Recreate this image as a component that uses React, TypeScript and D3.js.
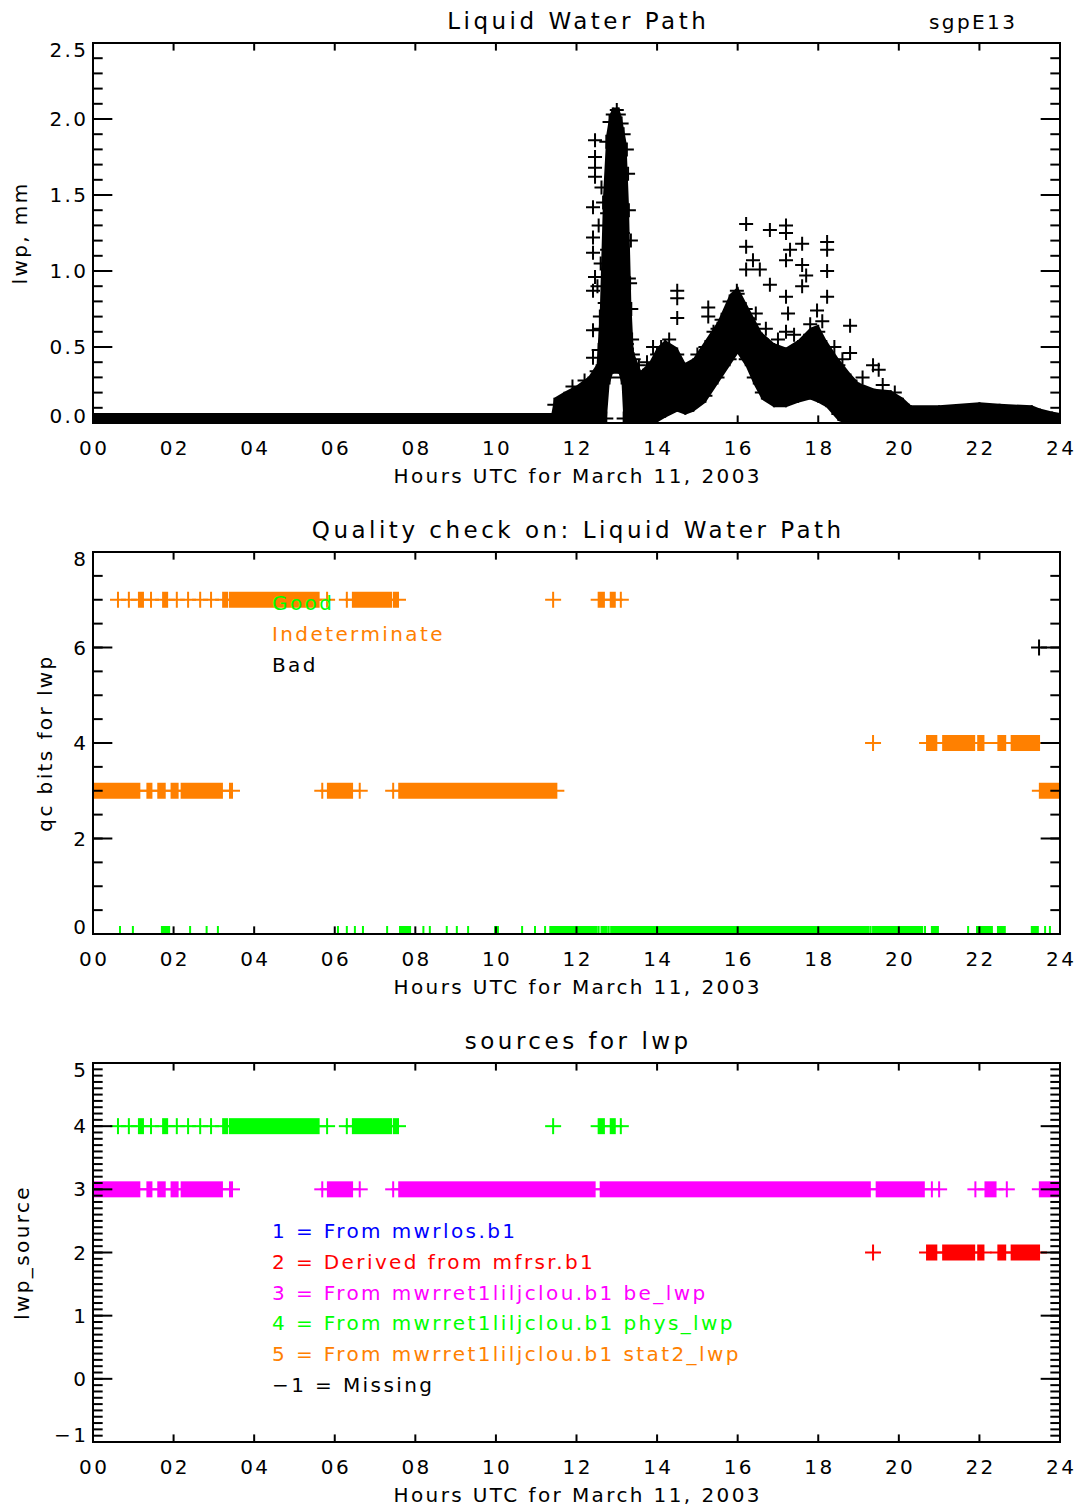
import React from "react";
import * as d3 from "d3";

// shared x axis
const hourTickValues = [0, 2, 4, 6, 8, 10, 12, 14, 16, 18, 20, 22, 24];
const hourTickLabels = ["00", "02", "04", "06", "08", "10", "12", "14", "16", "18", "20", "22", "24"];

// panel 1: liquid water path (dense cloud as envelope of the crosses + isolated crosses)
const lwpHours = [0, 11.38, 11.45, 11.7, 12.0, 12.3, 12.5, 12.58, 12.66, 12.74, 12.82, 12.9, 13.05, 13.12, 13.17, 13.24, 13.3, 13.36, 13.42, 13.6, 13.8, 14.0, 14.2, 14.5, 14.7, 14.9, 15.2, 15.5, 15.8, 16.0, 16.2, 16.4, 16.6, 16.9, 17.2, 17.5, 17.8, 18.0, 18.2, 18.5, 18.8, 19.0, 19.4, 19.8, 20.1, 20.3, 21.0, 22.0, 22.5, 23.3, 23.5, 23.8, 24.0];
const lwpLow = [0.02, 0.02, 0.01, 0.01, 0.02, 0.02, 0.02, 0.02, 0.03, 0.03, 0.3, 0.37, 0.37, 0.3, 0.03, 0.03, 0.03, 0.03, 0.03, 0.04, 0.05, 0.05, 0.08, 0.12, 0.1, 0.12, 0.18, 0.3, 0.42, 0.5, 0.42, 0.3, 0.2, 0.15, 0.15, 0.18, 0.2, 0.18, 0.15, 0.06, 0.03, 0.02, 0.02, 0.02, 0.02, 0.02, 0.02, 0.02, 0.02, 0.02, 0.02, 0.01, 0.01];
const lwpHigh = [0.02, 0.02, 0.12, 0.16, 0.2, 0.26, 0.34, 0.7, 1.45, 1.85, 1.98, 2.03, 2.03, 1.97, 1.9, 1.8, 1.4, 0.75, 0.42, 0.3, 0.35, 0.45, 0.5, 0.45, 0.35, 0.38, 0.5, 0.62, 0.8, 0.85, 0.75, 0.65, 0.55, 0.48, 0.45, 0.5, 0.58, 0.6, 0.5, 0.38, 0.28, 0.22, 0.18, 0.17, 0.12, 0.07, 0.07, 0.09, 0.08, 0.07, 0.05, 0.03, 0.02];
const lwpOutlierHours = [13.0, 12.46, 12.46, 12.46, 12.46, 12.41, 12.41, 12.41, 12.46, 12.41, 12.41, 12.41, 13.25, 13.28, 13.28, 13.15, 13.15, 13.33, 13.15, 12.76, 12.76, 13.25, 12.7, 12.55, 12.58, 12.6, 13.35, 13.3, 13.38, 12.52, 12.55, 12.62, 13.4,
  16.21, 16.21, 16.8, 17.2, 17.2, 17.6, 17.3, 17.2, 18.22, 18.22, 18.22, 18.22, 16.21, 16.38, 16.55, 17.6, 17.7, 17.6, 16.8, 18.79, 14.5, 14.5, 14.5, 15.27, 15.27, 15.98, 17.2, 17.25, 17.2, 18.79, 19.36, 19.5, 17.97,
  13.55, 13.75, 13.9, 14.1, 14.3, 15.0, 15.4, 15.6, 16.45, 16.7, 17.0, 17.4, 17.8, 18.1, 18.4, 18.6, 19.1, 19.6, 19.9, 12.2, 11.9];
const lwpOutlierValues = [2.06, 1.86, 1.75, 1.68, 1.62, 1.42, 1.22, 1.12, 0.96, 0.87, 0.61, 0.43, 1.8, 1.64, 1.4, 1.25, 1.0, 0.92, 0.7, 1.14, 1.38, 0.52, 0.79, 0.48, 0.62, 1.05, 1.2, 0.95, 0.55, 0.9, 1.3, 1.55, 0.45,
  1.31, 1.16, 1.27, 1.3, 1.25, 1.18, 1.14, 1.07, 1.19, 1.14, 1.0, 0.83, 1.01, 1.07, 1.01, 1.04, 0.97, 0.9, 0.91, 0.64, 0.87, 0.82, 0.69, 0.76, 0.7, 0.87, 0.83, 0.72, 0.6, 0.46, 0.38, 0.35, 0.74,
  0.38, 0.4, 0.5, 0.5, 0.55, 0.45, 0.6, 0.68, 0.72, 0.62, 0.55, 0.58, 0.65, 0.67, 0.5, 0.42, 0.3, 0.25, 0.2, 0.28, 0.24];
const lwpTickValues = [0, 0.5, 1.0, 1.5, 2.0, 2.5];
const lwpTickLabels = ["0.0", "0.5", "1.0", "1.5", "2.0", "2.5"];

// panel 2: qc bits, runs of consecutive samples [start hour, end hour]
const qcGoodRuns = [[0.67, 0.67], [0.99, 0.99], [1.71, 1.89], [2.41, 2.41], [2.82, 2.82], [3.1, 3.1], [6.08, 6.08], [6.3, 6.3], [6.5, 6.5], [6.7, 6.7], [7.3, 7.3], [7.62, 7.87], [8.2, 8.2], [8.36, 8.36], [8.78, 8.78], [9.03, 9.03], [9.31, 9.31], [9.98, 10.05], [10.65, 10.65], [10.97, 10.97], [11.22, 11.22], [11.35, 12.5], [12.55, 12.55], [12.62, 12.75], [12.8, 12.8], [12.86, 19.25], [19.3, 19.3], [19.36, 20.58], [20.65, 20.65], [20.82, 20.97], [21.72, 21.72], [21.94, 22.31], [22.46, 22.63], [23.3, 23.45], [23.63, 23.63], [23.75, 23.75]];
const qcSevenRuns = [[0.62, 0.62], [0.89, 0.89], [1.14, 1.24], [1.44, 1.44], [1.74, 1.84], [2.08, 2.08], [2.36, 2.36], [2.66, 2.66], [2.93, 2.93], [3.23, 3.33], [3.4, 5.6], [5.81, 5.81], [6.3, 6.3], [6.45, 7.4], [7.47, 7.57], [11.42, 11.42], [12.55, 12.68], [12.85, 12.95], [13.1, 13.1]];
const qcThreeRuns = [[0, 1.15], [1.35, 1.45], [1.62, 1.78], [1.95, 2.1], [2.2, 3.2], [3.4, 3.45], [5.69, 5.69], [5.83, 6.43], [6.62, 6.62], [7.45, 7.45], [7.6, 11.5], [23.5, 24]];
const qcFourRuns = [[19.36, 19.36], [20.7, 20.93], [21.1, 21.87], [21.97, 22.1], [22.47, 22.64], [22.8, 23.48]];
const qcSixRuns = [[23.48, 23.48]];
const qcTickValues = [0, 2, 4, 6, 8];
const qcTickLabels = ["0", "2", "4", "6", "8"];
const qcLegend = ["Good", "Indeterminate", "Bad"];

// panel 3: lwp source
const srcPhysRuns = qcSevenRuns; // source 4 matches qc 7
const srcBeRuns = [[0, 1.15], [1.35, 1.45], [1.62, 1.78], [1.95, 2.1], [2.2, 3.2], [3.4, 3.45], [5.69, 5.69], [5.83, 6.43], [6.62, 6.62], [7.45, 7.45], [7.6, 12.45], [12.6, 19.28], [19.45, 20.62], [20.82, 20.82], [21.0, 21.0], [21.9, 21.9], [22.15, 22.4], [22.68, 22.68], [23.5, 24]];
const srcMfrsrRuns = qcFourRuns; // source 2 matches qc 4
const srcTickValues = [-1, 0, 1, 2, 3, 4, 5];
const srcTickLabels = ["\u22121", "0", "1", "2", "3", "4", "5"];
const srcLegend = [
  "1 = From mwrlos.b1",
  "2 = Derived from mfrsr.b1",
  "3 = From mwrret1liljclou.b1 be_lwp",
  "4 = From mwrret1liljclou.b1 phys_lwp",
  "5 = From mwrret1liljclou.b1 stat2_lwp",
  "\u22121 = Missing",
];

const GREEN = "#00ff00";
const ORANGE = "#ff8000";
const MAGENTA = "#ff00ff";
const RED = "#ff0000";
const BLUE = "#0000ff";
const srcLegendColors = [BLUE, RED, MAGENTA, GREEN, ORANGE, "#000"];
const qcLegendColors = [GREEN, ORANGE, "#000"];

const LEFT = 93;
const RIGHT = 1060;
const FONT = "DejaVu Sans";
const FS = 20;
const LS = 2.4;
const TFS = 23;
const TLS = 3.5;

const x = d3.scaleLinear().domain([0, 24]).range([LEFT, RIGHT]);

function cross(cx: number, cy: number, h: number) {
  return `M${cx - h},${cy}H${cx + h}M${cx},${cy - h}V${cy + h}`;
}

function Frame({ id, top, bottom, y, ticks, labels, minor, title, ylabel, ylabelX, children }: any) {
  const h = bottom - top;
  const yLen = 0.02 * (RIGHT - LEFT);
  const xLen = 0.02 * h;
  const [d0, d1] = y.domain();
  const minorTicks = d3.range(Math.round((d1 - d0) / minor) + 1).map((i) => d0 + i * minor);
  return (
    <g>
      <defs>
        <clipPath id={id}>
          <rect x={LEFT} y={top} width={RIGHT - LEFT} height={h} />
        </clipPath>
      </defs>
      <g clipPath={`url(#${id})`}>{children}</g>
      <rect x={LEFT} y={top} width={RIGHT - LEFT} height={h} fill="none" stroke="#000" strokeWidth={2} />
      {hourTickValues.map((t) => (
        <g key={t}>
          <line x1={x(t)} x2={x(t)} y1={bottom} y2={bottom - xLen} stroke="#000" strokeWidth={2} />
          <line x1={x(t)} x2={x(t)} y1={top} y2={top + xLen} stroke="#000" strokeWidth={2} />
        </g>
      ))}
      {minorTicks.map((t, i) => (
        <g key={"m" + i}>
          <line x1={LEFT} x2={LEFT + yLen / 2} y1={y(t)} y2={y(t)} stroke="#000" strokeWidth={2} />
          <line x1={RIGHT} x2={RIGHT - yLen / 2} y1={y(t)} y2={y(t)} stroke="#000" strokeWidth={2} />
        </g>
      ))}
      {ticks.map((t: number) => (
        <g key={"M" + t}>
          <line x1={LEFT} x2={LEFT + yLen} y1={y(t)} y2={y(t)} stroke="#000" strokeWidth={2} />
          <line x1={RIGHT} x2={RIGHT - yLen} y1={y(t)} y2={y(t)} stroke="#000" strokeWidth={2} />
        </g>
      ))}
      <g fontFamily={FONT} fontSize={FS} letterSpacing={LS} fill="#000">
        {ticks.map((t: number, i: number) => {
          let yy = y(t);
          if (i === 0) yy -= 7;
          if (i === ticks.length - 1) yy += 7;
          return (
            <text key={"l" + t} x={86 + LS} y={yy} textAnchor="end" dominantBaseline="central">
              {labels[i]}
            </text>
          );
        })}
        {hourTickValues.map((t, i) => (
          <text key={"h" + t} x={x(t) + LS / 2} y={bottom + 25} textAnchor="middle" dominantBaseline="central">
            {hourTickLabels[i]}
          </text>
        ))}
        <text x={(LEFT + RIGHT) / 2 + LS / 2} y={bottom + 53} textAnchor="middle" dominantBaseline="central">
          Hours UTC for March 11, 2003
        </text>
        <text
          x={(LEFT + RIGHT) / 2 + TLS / 2}
          y={top - 22}
          textAnchor="middle"
          dominantBaseline="central"
          fontSize={TFS}
          letterSpacing={TLS}
        >
          {title}
        </text>
        <text
          transform={`translate(${ylabelX},${(top + bottom) / 2}) rotate(-90)`}
          textAnchor="middle"
          dominantBaseline="central"
        >
          {ylabel}
        </text>
      </g>
    </g>
  );
}

function Runs({ runs, value, color, y, half }: any) {
  return (
    <g>
      {runs.map(([a, b]: number[], i: number) => {
        const xa = x(a);
        const xb = x(b);
        const yy = y(value);
        return (
          <g key={i}>
            <line x1={xa - half} x2={xb + half} y1={yy} y2={yy} stroke={color} strokeWidth={2} />
            <rect x={xa - 1} y={yy - half} width={xb - xa + 2} height={2 * half} fill={color} />
          </g>
        );
      })}
    </g>
  );
}

export default function App() {
  // panel 1
  const y1 = d3.scaleLinear().domain([0, 2.5]).range([423, 43]);
  const H1 = 7;
  const area = d3
    .area<number>()
    .x((_, i) => x(lwpHours[i]))
    .y0((_, i) => y1(lwpLow[i]) + H1)
    .y1((_, i) => y1(lwpHigh[i]) - H1);
  const envCross = lwpHours
    .map((h, i) => cross(x(h), y1(lwpLow[i]), H1) + cross(x(h), y1(lwpHigh[i]), H1))
    .join("");
  const outCross = lwpOutlierHours.map((h, i) => cross(x(h), y1(lwpOutlierValues[i]), H1)).join("");

  // panel 2
  const y2 = d3.scaleLinear().domain([0, 8]).range([934, 552]);
  // panel 3
  const y3 = d3.scaleLinear().domain([-1, 5]).range([1442, 1063]);
  const H = 8;

  return (
    <div style={{ position: "absolute", left: 0, top: 0 }}>
      <svg width={1078} height={1510} style={{ display: "block", background: "#fff" }}>
        <Frame
          id="c1"
          top={43}
          bottom={423}
          y={y1}
          ticks={lwpTickValues}
          labels={lwpTickLabels}
          minor={0.1}
          title="Liquid Water Path"
          ylabel="lwp, mm"
          ylabelX={20}
        >
          <path d={area(lwpHours) || ""} fill="#000" />
          <path d={envCross + outCross} stroke="#000" strokeWidth={2} fill="none" />
        </Frame>
        <text x={972 + LS / 2} y={22} fontFamily={FONT} fontSize={FS} letterSpacing={LS} textAnchor="middle" dominantBaseline="central">
          sgpE13
        </text>

        <Frame
          id="c2"
          top={552}
          bottom={934}
          y={y2}
          ticks={qcTickValues}
          labels={qcTickLabels}
          minor={0.5}
          title="Quality check on: Liquid Water Path"
          ylabel="qc bits for lwp"
          ylabelX={45}
        >
          <Runs runs={qcGoodRuns} value={0} color={GREEN} y={y2} half={H} />
          <Runs runs={qcSevenRuns} value={7} color={ORANGE} y={y2} half={H} />
          <Runs runs={qcThreeRuns} value={3} color={ORANGE} y={y2} half={H} />
          <Runs runs={qcFourRuns} value={4} color={ORANGE} y={y2} half={H} />
          <Runs runs={qcSixRuns} value={6} color="#000" y={y2} half={H} />
        </Frame>
        <g fontFamily={FONT} fontSize={FS} letterSpacing={LS}>
          {qcLegend.map((t, i) => (
            <text key={t} x={272} y={603 + i * 31} fill={qcLegendColors[i]} dominantBaseline="central">
              {t}
            </text>
          ))}
        </g>

        <Frame
          id="c3"
          top={1063}
          bottom={1442}
          y={y3}
          ticks={srcTickValues}
          labels={srcTickLabels}
          minor={0.1}
          title="sources for lwp"
          ylabel="lwp_source"
          ylabelX={22}
        >
          <Runs runs={srcPhysRuns} value={4} color={GREEN} y={y3} half={H} />
          <Runs runs={srcBeRuns} value={3} color={MAGENTA} y={y3} half={H} />
          <Runs runs={srcMfrsrRuns} value={2} color={RED} y={y3} half={H} />
        </Frame>
        <g fontFamily={FONT} fontSize={FS} letterSpacing={LS}>
          {srcLegend.map((t, i) => (
            <text key={t} x={272} y={1231 + i * 30.8} fill={srcLegendColors[i]} dominantBaseline="central">
              {t}
            </text>
          ))}
        </g>
      </svg>
    </div>
  );
}
